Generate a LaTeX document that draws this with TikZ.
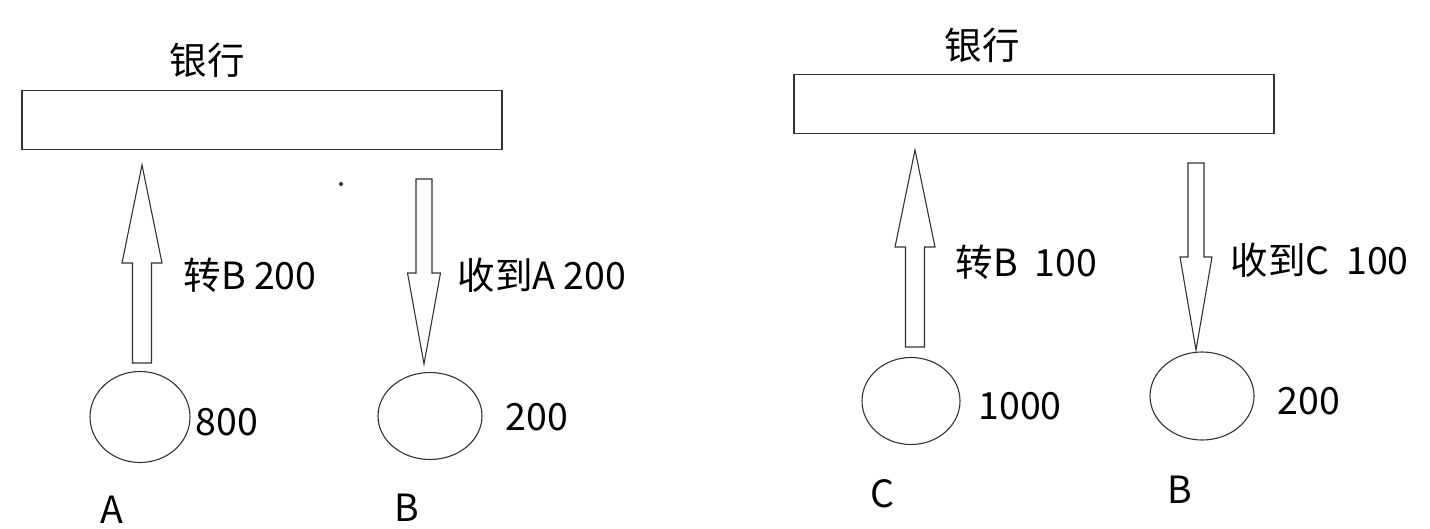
\documentclass[tikz,border=0pt]{standalone}
\usepackage{fontspec}
\setmainfont{Noto Sans CJK SC}
\usetikzlibrary{positioning,shapes.geometric}

% hollow block arrow: centre x, tail y, head-base y, tip y, half shaft, half head
\newcommand{\blockarrow}[6]{%
  \draw[line join=miter] ({#1-#5},#2) -- ({#1+#5},#2) -- ({#1+#5},#3) -- ({#1+#6},#3)
    -- (#1,#4) -- ({#1-#6},#3) -- ({#1-#5},#3) -- cycle;}

\begin{document}
\begin{tikzpicture}[x=1pt,y=-1pt,line width=1.1pt,
    every node/.style={font=\fontsize{37.5}{44}\selectfont},
    bank/.style={draw=black!80, minimum width=480pt, minimum height=59pt, inner sep=0pt},
    acct/.style={draw=black!80, ellipse, inner sep=0pt},
    lbl/.style={anchor=west, inner sep=0pt}]
  \useasboundingbox (0,0) rectangle (1430,528);
  \tikzset{every path/.style={draw=black!80}}

  % left: A pays B
  \node[bank] (bankL) at (262,120) {};
  \node (titleL) at (207,60) {银行};
  \blockarrow{142}{363}{263}{165}{9.5}{20}
  \blockarrow{424}{179}{273}{364}{8}{16.5}
  \node[lbl] (sendA) at (183,275) {转B 200};
  \node[lbl] (recvB) at (457,275) {收到A 200};
  \node[acct, minimum width=100pt, minimum height=91pt] (accA) at (140,417) {};
  \node[acct, minimum width=104pt, minimum height=87pt] (accB) at (430,416) {};
  \node[lbl] (balA) at (195,422) {800};
  \node[lbl] (balB) at (505,417) {200};
  \node (nameA) at (112,510) {A};
  \node (nameB) at (407,508) {B};
  \fill[black!80] (341,184) circle (1.5);

  % right: C pays B
  \node[bank] (bankR) at (1034,104) {};
  \node (titleR) at (982,45) {银行};
  \blockarrow{915}{347}{247}{150}{9.5}{20}
  \blockarrow{1196}{163}{257}{350}{8}{16}
  \node[lbl] (sendC) at (955,262) {转B\ \ 100};
  \node[lbl] (recvB2) at (1230,260) {收到C\ \ 100};
  \node[acct, minimum width=98pt, minimum height=87pt] (accC) at (911,401) {};
  \node[acct, minimum width=104pt, minimum height=88pt] (accB2) at (1202,396) {};
  \node[lbl] (balC) at (978,406) {1000};
  \node[lbl] (balB2) at (1277,401) {200};
  \node (nameC) at (882,494) {C};
  \node (nameB2) at (1180,490) {B};
\end{tikzpicture}
\end{document}
